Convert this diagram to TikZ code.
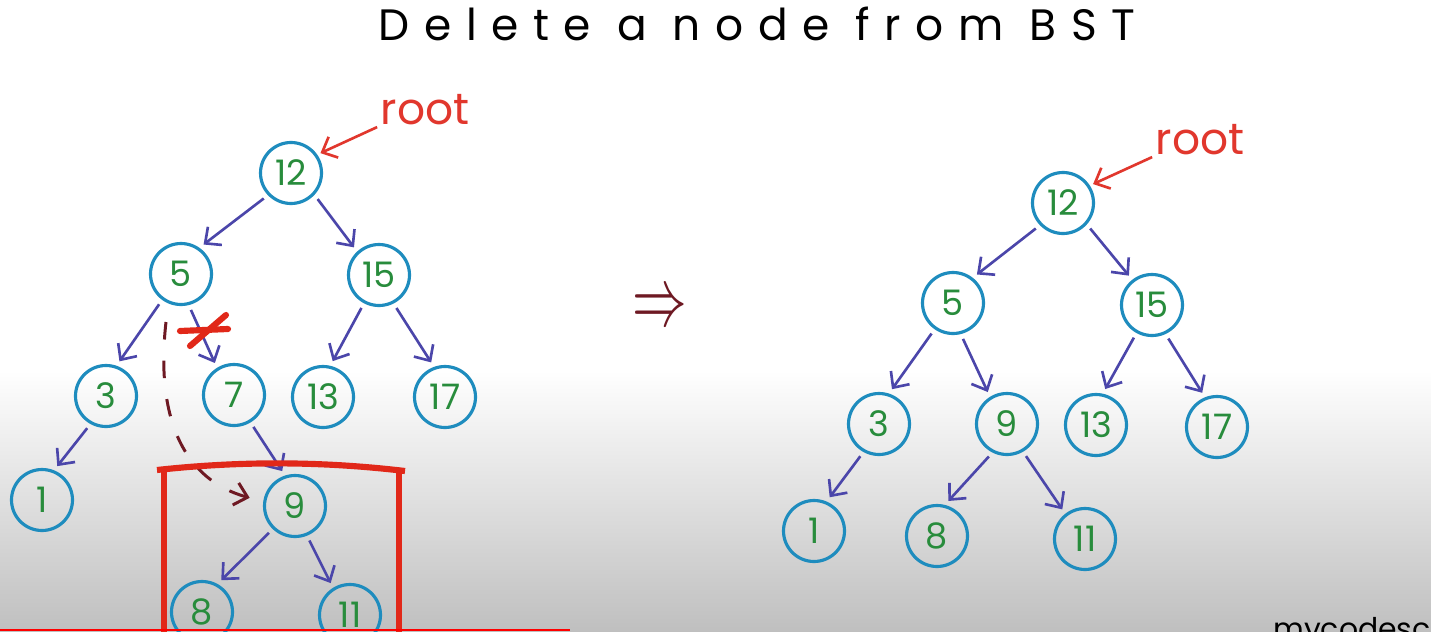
\documentclass[tikz,border=0pt]{standalone}
\usepackage{fontspec}
\setmainfont{Poppins}
\usepackage{tikz}
\usetikzlibrary{arrows.meta, calc}
\definecolor{ringblue}{RGB}{30, 140, 190}
\definecolor{keygreen}{RGB}{40, 140, 60}
\definecolor{edgeblue}{RGB}{75, 70, 170}
\definecolor{rootred}{RGB}{225, 55, 45}
\definecolor{boxred}{RGB}{225, 40, 25}
\definecolor{movered}{RGB}{110, 25, 35}

\begin{document}
\begin{tikzpicture}[x=0.02cm, y=-0.02cm,
    key/.style={circle, draw=ringblue, line width=1.8pt, minimum size=1.22cm, inner sep=0pt, text=keygreen, font=\fontsize{20}{24}\selectfont},
    edge/.style={-{Straight Barb[length=7pt, width=13pt]}, edgeblue, line width=1.5pt, shorten <=3pt, shorten >=3pt},
    rootlabel/.style={text=rootred, font=\fontsize{25}{30}\selectfont, inner sep=0pt},
    rootarrow/.style={-{Straight Barb[length=7pt, width=13pt]}, rootred, line width=1.5pt, shorten <=2pt, shorten >=2pt}
]
    \useasboundingbox (0,0) rectangle (1431,632);
    \clip (0,0) rectangle (1431,632);
    \fill[white] (0,0) rectangle (1431,632);
    \shade[top color=white, bottom color=black!25] (0,370) rectangle (1431,632);

    \node[font=\fontsize{25}{28}\selectfont\addfontfeature{LetterSpace=33}] (title) at (757,24) {Delete a node from BST};

    % before
    \node[key] (l12) at (291,173) {12};
    \node[key] (l5) at (181,274) {5};
    \node[key] (l15) at (379,275) {15};
    \node[key] (l3) at (106,396) {3};
    \node[key] (l7) at (234,395) {7};
    \node[key] (l13) at (323,397) {13};
    \node[key] (l17) at (445,397) {17};
    \node[key] (l1) at (42,500) {1};
    \node[key] (l9) at (295,506) {9};
    \node[key] (l8) at (202,612) {8};
    \node[key] (l11) at (350,615) {11};
    \node[rootlabel] (lroot) at (425,110) {root};

    \draw[rootarrow] (lroot.south west) -- (l12.35);
    \draw[edge] (l12.224) -- (l5.55);
    \draw[edge] (l12.317) -- (l15.133);
    \draw[edge] (l5.234) -- (l3.71);
    \draw[edge] (l5.284) -- (l7.122);
    \draw[edge] (l15.242) -- (l13.77);
    \draw[edge] (l15.297) -- (l17.110);
    \draw[edge] (l3.241) -- (l1.68);
    \draw[edge] (l7.301) -- (l9.108);
    \draw[edge] (l9.226) -- (l8.61);
    \draw[edge] (l9.292) -- (l11.122);

    % cut link and move
    \draw[boxred, line width=3.5pt, line cap=round] (180,331) -- (228,329);
    \draw[boxred, line width=3.5pt, line cap=round] (190,346) -- (226,315);
    \coordinate (cut) at (166,322);
    \draw[movered, line width=1.7pt, dash pattern=on 10pt off 12pt, -{Straight Barb[length=7pt, width=13pt]}, shorten >=8pt]
        (cut) .. controls (155,420) and (185,480) .. (l9.172);
    \draw[boxred, line width=3.5pt] (157,470) .. controls (240,461) and (320,461) .. (405,471);
    \draw[boxred, line width=3.5pt] (164,470) -- (164,640);
    \draw[boxred, line width=3.5pt] (399,470) -- (399,640);

    \node[text=movered, xscale=1.5, yscale=2.3, font=\fontsize{20}{20}\selectfont] (implies) at (660,310) {$\Rightarrow$};

    % after
    \node[key] (r12) at (1063,203) {12};
    \node[key] (r5) at (953,303) {5};
    \node[key] (r15) at (1152,305) {15};
    \node[key] (r3) at (879,424) {3};
    \node[key] (r9) at (1007,424) {9};
    \node[key] (r13) at (1096,425) {13};
    \node[key] (r17) at (1217,427) {17};
    \node[key] (r1) at (814,531) {1};
    \node[key] (r8) at (937,536) {8};
    \node[key] (r11) at (1085,539) {11};
    \node[rootlabel] (rroot) at (1200,140) {root};

    \draw[rootarrow] (rroot.south west) -- (r12.33);
    \draw[edge] (r12.224) -- (r5.52);
    \draw[edge] (r12.318) -- (r15.128);
    \draw[edge] (r5.235) -- (r3.72);
    \draw[edge] (r5.284) -- (r9.122);
    \draw[edge] (r15.241) -- (r13.78);
    \draw[edge] (r15.295) -- (r17.112);
    \draw[edge] (r3.241) -- (r1.67);
    \draw[edge] (r9.243) -- (r8.76);
    \draw[edge] (r9.300) -- (r11.128);

    \draw[red, line width=0.9pt] (0,630) -- (570,630);
    \node[anchor=base west, font=\fontsize{17}{20}\selectfont, inner sep=0pt] (mark) at (1273,639) {mycodeschool};
\end{tikzpicture}
\end{document}
